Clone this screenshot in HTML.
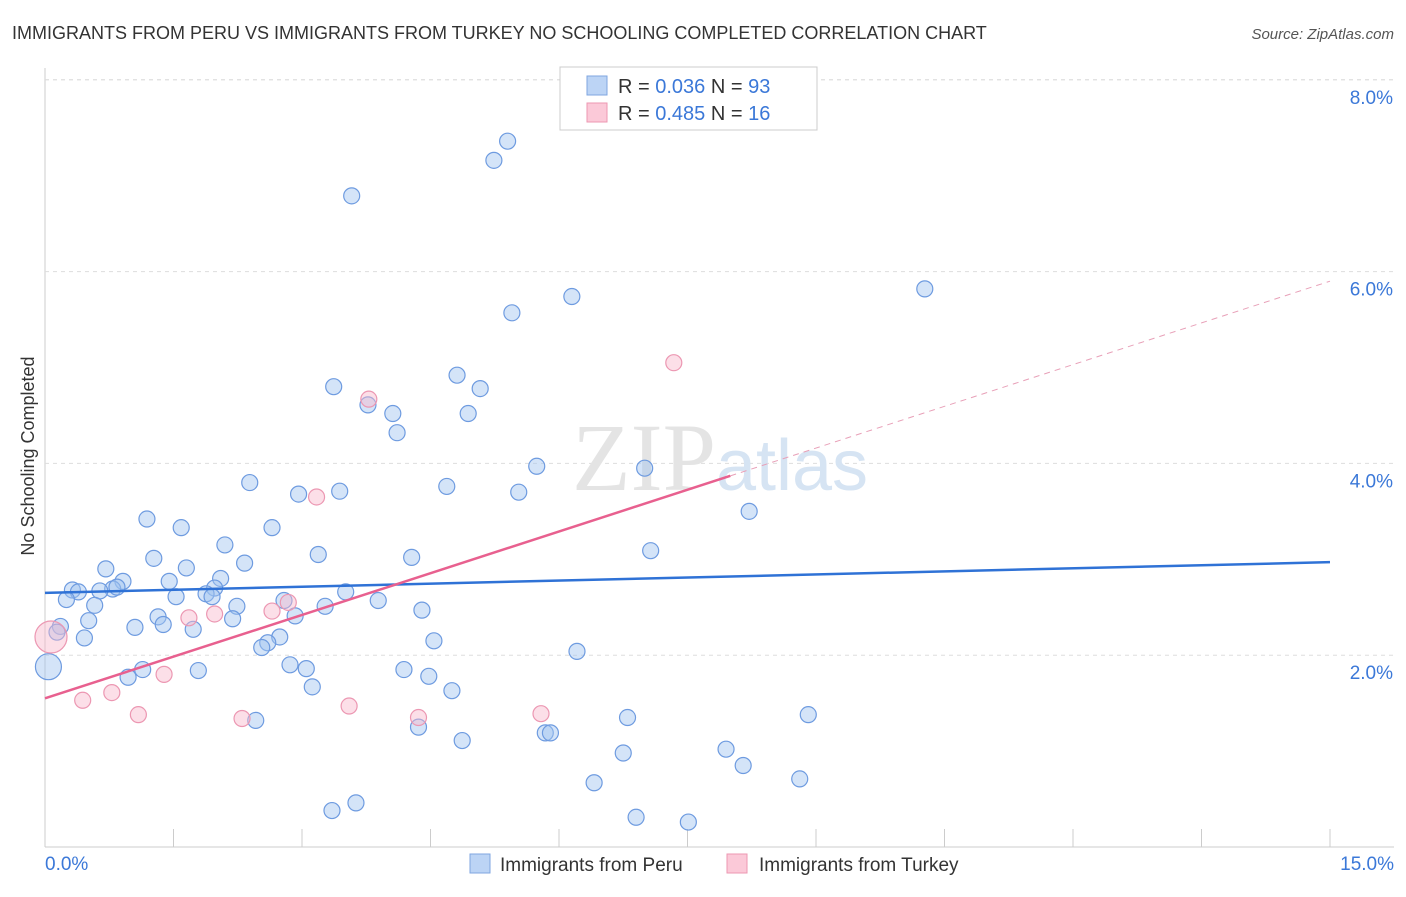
<!DOCTYPE html>
<html><head><meta charset="utf-8"><style>
body{margin:0;background:#fff;font-family:"Liberation Sans",sans-serif;}
</style></head><body>
<svg id="chart" width="1406" height="892" xmlns="http://www.w3.org/2000/svg" font-family="Liberation Sans, sans-serif">
<text x="12" y="39" font-size="18" fill="#333">IMMIGRANTS FROM PERU VS IMMIGRANTS FROM TURKEY NO SCHOOLING COMPLETED CORRELATION CHART</text>
<text x="1394" y="39" font-size="15" fill="#555" text-anchor="end" font-style="italic">Source: ZipAtlas.com</text>
<g id="grid"></g>
<text x="720" y="490" font-size="96" fill="#e4e4e4" text-anchor="middle" font-family="Liberation Serif, serif">ZIP<tspan fill="#d6e4f3" font-family="Liberation Sans, sans-serif" font-size="72">atlas</tspan></text>
<text transform="translate(34,456) rotate(-90)" font-size="18" fill="#333" text-anchor="middle">No Schooling Completed</text>
<g id="points"></g>
<g id="lines"></g>
<g>
<rect x="560" y="67" width="257" height="63" fill="#fff" stroke="#ccc"/>
<rect x="587" y="76" width="20" height="19" fill="#bcd4f5" stroke="#7fa6e0"/>
<rect x="587" y="103" width="20" height="19" fill="#fbc9d8" stroke="#ec97b2"/>
<text x="618" y="93" font-size="20" fill="#333">R = <tspan fill="#3b78d8">0.036</tspan>   N = <tspan fill="#3b78d8">93</tspan></text>
<text x="618" y="120" font-size="20" fill="#333">R = <tspan fill="#3b78d8">0.485</tspan>   N =  <tspan fill="#3b78d8">16</tspan></text>
</g>
<g>
<rect x="470" y="854" width="20" height="19" fill="#bcd4f5" stroke="#7fa6e0"/>
<text x="500" y="871" font-size="19" fill="#333">Immigrants from Peru</text>
<rect x="727" y="854" width="20" height="19" fill="#fbc9d8" stroke="#ec97b2"/>
<text x="759" y="871" font-size="19" fill="#333">Immigrants from Turkey</text>
</g>
</svg>
<script>
const xTicks=[0,1.5,3,4.5,6,7.5,9,10.5,12,13.5,15];
const yTicks=[2,4,6,8];
const yTickLabels=["2.0%","4.0%","6.0%","8.0%"];
const peruX=[5.4,5.24,3.58,6.15,10.27,5.45,3.37,4.81,5.08,3.77,4.06,4.94,4.11,5.74,7.0,2.39,4.69,5.53,2.96,3.44,8.22,1.19,1.59,2.65,2.1,7.07,1.27,3.19,4.28,2.33,0.71,1.65,0.91,1.45,2.05,0.32,0.39,0.79,0.84,0.64,1.98,1.88,3.51,0.25,0.58,1.53,1.95,2.79,3.89,2.24,3.27,4.4,1.32,0.51,1.38,2.19,2.92,0.18,1.05,1.73,0.14,0.46,2.74,2.6,2.53,4.54,6.21,2.86,3.05,4.19,1.14,1.79,0.97,4.48,0.04,3.12,4.75,2.46,6.8,8.91,4.36,4.87,5.84,5.9,7.95,6.75,8.15,8.81,6.41,3.63,3.35,6.9,7.51];
const peruY=[7.36,7.16,6.79,5.74,5.82,5.57,4.8,4.92,4.78,4.61,4.52,4.52,4.32,3.97,3.95,3.8,3.76,3.7,3.68,3.71,3.5,3.42,3.33,3.33,3.15,3.09,3.01,3.05,3.02,2.96,2.9,2.91,2.77,2.77,2.8,2.68,2.66,2.69,2.71,2.67,2.70,2.64,2.66,2.58,2.52,2.61,2.61,2.57,2.57,2.51,2.51,2.47,2.4,2.36,2.32,2.38,2.41,2.30,2.29,2.27,2.24,2.18,2.19,2.13,2.08,2.15,2.04,1.9,1.86,1.85,1.85,1.84,1.77,1.78,1.88,1.67,1.63,1.32,1.35,1.38,1.25,1.11,1.19,1.19,1.02,0.98,0.85,0.71,0.67,0.46,0.38,0.31,0.26];
const peruR=[8,8,8,8,8,8,8,8,8,8,8,8,8,8,8,8,8,8,8,8,8,8,8,8,8,8,8,8,8,8,8,8,8,8,8,8,8,8,8,8,8,8,8,8,8,8,8,8,8,8,8,8,8,8,8,8,8,8,8,8,8,8,8,8,8,8,8,8,8,8,8,8,8,8,13,8,8,8,8,8,8,8,8,8,8,8,8,8,8,8,8,8,8];
const turkeyX=[0.07,3.17,3.78,7.34,1.98,2.65,2.84,1.68,1.39,0.78,0.44,1.09,2.3,3.55,4.36,5.79];
const turkeyY=[2.19,3.65,4.67,5.05,2.43,2.46,2.55,2.39,1.80,1.61,1.53,1.38,1.34,1.47,1.35,1.39];
const turkeyR=[16,8,8,8,8,8,8,8,8,8,8,8,8,8,8,8];
const peruLine=[[0,2.65],[15,2.97]];
const turkeyLine=[[0,1.55],[8,3.87],[15,5.9]];
const X=v=>45+v*(1285/15), Y=v=>847-v*95.9;
const NS="http://www.w3.org/2000/svg";
function mk(t,a,p){const e=document.createElementNS(NS,t);for(const k in a)e.setAttribute(k,a[k]);p.appendChild(e);return e;}
const grid=document.getElementById('grid');
mk('line',{x1:45,y1:68,x2:45,y2:847,stroke:'#ccc'},grid);
mk('line',{x1:45,y1:847,x2:1394,y2:847,stroke:'#ccc'},grid);
yTicks.forEach((t,i)=>{
 const g=mk('line',{x1:45,y1:Y(t),x2:1394,y2:Y(t),stroke:'#ddd','stroke-dasharray':'4,4'},grid);
 
 const tx=mk('text',{x:1393,y:Y(t)+24,'font-size':19,fill:'#3b78d8','text-anchor':'end'},grid);
 tx.textContent=yTickLabels[i];
 
});
mk('line',{x1:45,y1:Y(8),x2:1394,y2:Y(8),stroke:'#ddd','stroke-dasharray':'4,4'},grid);
xTicks.forEach(t=>{const l=mk('line',{x1:X(t),y1:829,x2:X(t),y2:847,stroke:'#ccc'},grid);
 });
let a=mk('text',{x:45,y:870,'font-size':19,fill:'#3b78d8'},grid);a.textContent='0.0%';

a=mk('text',{x:1394,y:870,'font-size':19,fill:'#3b78d8','text-anchor':'end'},grid);a.textContent='15.0%';

const pts=document.getElementById('points');
peruX.forEach((x,i)=>{const c=mk('circle',{cx:X(x),cy:Y(peruY[i]),r:peruR[i],fill:'rgba(160,195,240,0.45)',stroke:'#6e9be0','stroke-width':1.2},pts);
 });
turkeyX.forEach((x,i)=>{const c=mk('circle',{cx:X(x),cy:Y(turkeyY[i]),r:turkeyR[i],fill:'rgba(248,185,205,0.45)',stroke:'#ec97b2','stroke-width':1.2},pts);
 });
const ln=document.getElementById('lines');
let l=mk('line',{x1:X(peruLine[0][0]),y1:Y(peruLine[0][1]),x2:X(peruLine[1][0]),y2:Y(peruLine[1][1]),stroke:'#2f72d6','stroke-width':2.5},ln);

l=mk('line',{x1:X(turkeyLine[0][0]),y1:Y(turkeyLine[0][1]),x2:X(turkeyLine[1][0]),y2:Y(turkeyLine[1][1]),stroke:'#e8608f','stroke-width':2.5},ln);

l=mk('line',{x1:X(turkeyLine[1][0]),y1:Y(turkeyLine[1][1]),x2:X(turkeyLine[2][0]),y2:Y(turkeyLine[2][1]),stroke:'#e8a0b8','stroke-width':1,'stroke-dasharray':'6,5'},ln);

</script>
</body></html>
